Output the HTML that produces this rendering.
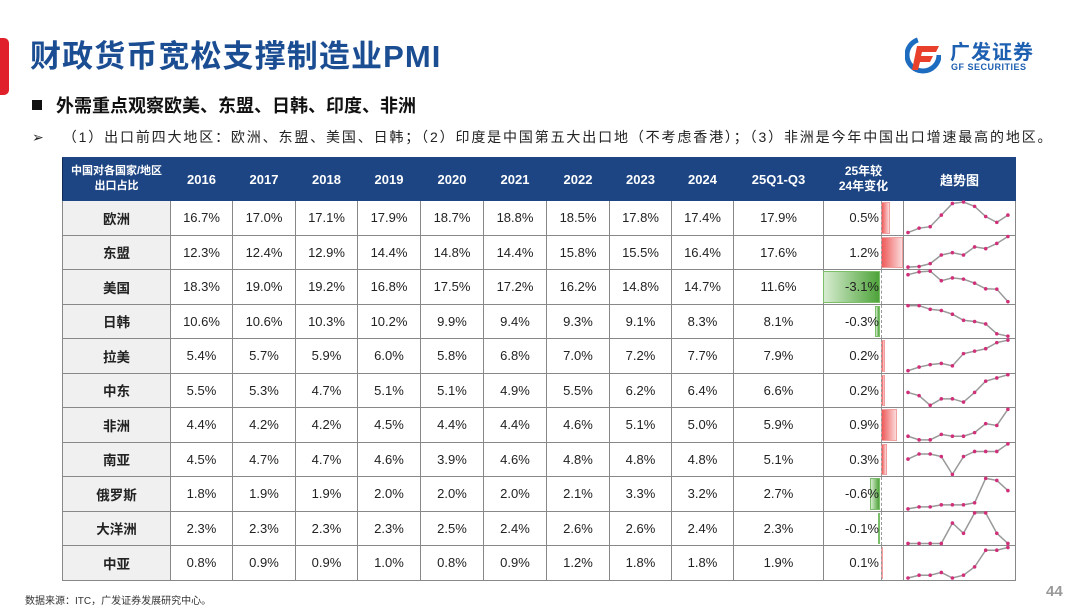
<!DOCTYPE html>
<html><head><meta charset="utf-8">
<style>
*{margin:0;padding:0;box-sizing:border-box}
body{width:1080px;height:608px;background:#fff;position:relative;overflow:hidden;font-family:"Liberation Sans","Noto Sans CJK SC",sans-serif}
.redbar{position:absolute;left:0;top:38px;width:9px;height:57px;background:#e0202a;border-radius:0 5px 5px 0}
.title{position:absolute;left:30px;top:31px;font-size:31px;font-weight:bold;color:#1b4d93;letter-spacing:1.1px}
.sub{position:absolute;left:32px;top:92px;font-size:18px;font-weight:bold;color:#111}
.sub i{display:inline-block;width:10px;height:10px;background:#111;margin-right:14px;vertical-align:2px}
.pt{position:absolute;left:32px;top:127px;font-size:14px;color:#222;white-space:nowrap;letter-spacing:1.85px}
table{position:absolute;left:62px;top:157px;border-collapse:collapse;table-layout:fixed}
td,th{border:1px solid #888;text-align:center;font-size:13px;color:#222;height:34.5px;padding:0}
th{background:#1d4584;color:#fff;font-weight:bold;height:43px;border-color:#1d4584;border-left:1px solid #0e2a55;font-size:13px}
th.s{font-size:11px;line-height:15px}
td.l{background:#f0f0f0;font-weight:bold;font-size:13.5px}
td.c{position:relative;text-align:right;padding-right:24px}
td.c span{position:relative;z-index:2}
.pb{position:absolute;top:1px;bottom:1px;left:57px;background:linear-gradient(to right,#ee5a5a,#fbdada);border:1px solid #f0a0a0}
.nb{position:absolute;top:1px;bottom:1px;right:23px;background:linear-gradient(to right,#d7ecd0,#4ea33a);border:1px solid #7cbf6a}
.ax{position:absolute;top:0;bottom:0;left:57px;border-left:1px dashed #999;z-index:1}
.src{position:absolute;left:25px;top:592px;font-size:10px;color:#333}
.pg{position:absolute;left:1046px;top:583px;font-size:15px;font-weight:bold;color:#999}
svg.tr{position:absolute;left:903px;top:200px}
</style></head><body>
<div class="redbar"></div>
<div class="title">财政货币宽松支撑制造业PMI</div>
<div class="sub"><i></i>外需重点观察欧美、东盟、日韩、印度、非洲</div>
<div class="pt">➢&nbsp;&nbsp;&nbsp;（1）出口前四大地区：欧洲、东盟、美国、日韩；（2）印度是中国第五大出口地（不考虑香港）；（3）非洲是今年中国出口增速最高的地区。</div>
<svg style="position:absolute;left:905px;top:36px" width="36" height="38" viewBox="0 0 36 38">
<circle cx="18" cy="19" r="16" fill="none" stroke="#1d6cc0" stroke-width="5" stroke-dasharray="70 40"/>
<path d="M12 10h22l-3 6H17l-1 4h12l-3 6H15l-2 8H7z" fill="#e8402a"/>
</svg>
<div style="position:absolute;left:950px;top:36px;font-size:20px;font-weight:bold;color:#1d5fb0;letter-spacing:1px">广发证券</div>
<div style="position:absolute;left:951px;top:62px;font-size:9px;font-weight:bold;color:#1d5fb0;letter-spacing:0.5px">GF SECURITIES</div>
<table>
<colgroup><col style="width:108px"><col style="width:62px"><col style="width:63px"><col style="width:62px"><col style="width:63px"><col style="width:63px"><col style="width:63px"><col style="width:63px"><col style="width:62px"><col style="width:62px"><col style="width:90px"><col style="width:80px"><col style="width:112px"></colgroup>
<tr><th class="s">中国对各国家/地区<br>出口占比</th><th>2016</th><th>2017</th><th>2018</th><th>2019</th><th>2020</th><th>2021</th><th>2022</th><th>2023</th><th>2024</th><th>25Q1-Q3</th><th class="s" style="font-size:12px">25年较<br>24年变化</th><th>趋势图</th></tr>
<tr><td class="l">欧洲</td><td>16.7%</td><td>17.0%</td><td>17.1%</td><td>17.9%</td><td>18.7%</td><td>18.8%</td><td>18.5%</td><td>17.8%</td><td>17.4%</td><td>17.9%</td><td class="c"><div class="ax"></div><div class="pb" style="width:9px"></div><span>0.5%</span></td><td></td></tr>
<tr><td class="l">东盟</td><td>12.3%</td><td>12.4%</td><td>12.9%</td><td>14.4%</td><td>14.8%</td><td>14.4%</td><td>15.8%</td><td>15.5%</td><td>16.4%</td><td>17.6%</td><td class="c"><div class="ax"></div><div class="pb" style="width:22px"></div><span>1.2%</span></td><td></td></tr>
<tr><td class="l">美国</td><td>18.3%</td><td>19.0%</td><td>19.2%</td><td>16.8%</td><td>17.5%</td><td>17.2%</td><td>16.2%</td><td>14.8%</td><td>14.7%</td><td>11.6%</td><td class="c"><div class="ax"></div><div class="nb" style="width:57px"></div><span>-3.1%</span></td><td></td></tr>
<tr><td class="l">日韩</td><td>10.6%</td><td>10.6%</td><td>10.3%</td><td>10.2%</td><td>9.9%</td><td>9.4%</td><td>9.3%</td><td>9.1%</td><td>8.3%</td><td>8.1%</td><td class="c"><div class="ax"></div><div class="nb" style="width:5px"></div><span>-0.3%</span></td><td></td></tr>
<tr><td class="l">拉美</td><td>5.4%</td><td>5.7%</td><td>5.9%</td><td>6.0%</td><td>5.8%</td><td>6.8%</td><td>7.0%</td><td>7.2%</td><td>7.7%</td><td>7.9%</td><td class="c"><div class="ax"></div><div class="pb" style="width:4px"></div><span>0.2%</span></td><td></td></tr>
<tr><td class="l">中东</td><td>5.5%</td><td>5.3%</td><td>4.7%</td><td>5.1%</td><td>5.1%</td><td>4.9%</td><td>5.5%</td><td>6.2%</td><td>6.4%</td><td>6.6%</td><td class="c"><div class="ax"></div><div class="pb" style="width:4px"></div><span>0.2%</span></td><td></td></tr>
<tr><td class="l">非洲</td><td>4.4%</td><td>4.2%</td><td>4.2%</td><td>4.5%</td><td>4.4%</td><td>4.4%</td><td>4.6%</td><td>5.1%</td><td>5.0%</td><td>5.9%</td><td class="c"><div class="ax"></div><div class="pb" style="width:16px"></div><span>0.9%</span></td><td></td></tr>
<tr><td class="l">南亚</td><td>4.5%</td><td>4.7%</td><td>4.7%</td><td>4.6%</td><td>3.9%</td><td>4.6%</td><td>4.8%</td><td>4.8%</td><td>4.8%</td><td>5.1%</td><td class="c"><div class="ax"></div><div class="pb" style="width:6px"></div><span>0.3%</span></td><td></td></tr>
<tr><td class="l">俄罗斯</td><td>1.8%</td><td>1.9%</td><td>1.9%</td><td>2.0%</td><td>2.0%</td><td>2.0%</td><td>2.1%</td><td>3.3%</td><td>3.2%</td><td>2.7%</td><td class="c"><div class="ax"></div><div class="nb" style="width:10px"></div><span>-0.6%</span></td><td></td></tr>
<tr><td class="l">大洋洲</td><td>2.3%</td><td>2.3%</td><td>2.3%</td><td>2.3%</td><td>2.5%</td><td>2.4%</td><td>2.6%</td><td>2.6%</td><td>2.4%</td><td>2.3%</td><td class="c"><div class="ax"></div><div class="nb" style="width:2px"></div><span>-0.1%</span></td><td></td></tr>
<tr><td class="l">中亚</td><td>0.8%</td><td>0.9%</td><td>0.9%</td><td>1.0%</td><td>0.8%</td><td>0.9%</td><td>1.2%</td><td>1.8%</td><td>1.8%</td><td>1.9%</td><td class="c"><div class="ax"></div><div class="pb" style="width:2px"></div><span>0.1%</span></td><td></td></tr>
</table>
<svg class="tr" id="tr" width="112" height="380"></svg>
<div class="src">数据来源：ITC，广发证券发展研究中心。</div>
<div class="pg">44</div>
<script>
var D=[[16.7,17.0,17.1,17.9,18.7,18.8,18.5,17.8,17.4,17.9],[12.3,12.4,12.9,14.4,14.8,14.4,15.8,15.5,16.4,17.6],[18.3,19.0,19.2,16.8,17.5,17.2,16.2,14.8,14.7,11.6],[10.6,10.6,10.3,10.2,9.9,9.4,9.3,9.1,8.3,8.1],[5.4,5.7,5.9,6.0,5.8,6.8,7.0,7.2,7.7,7.9],[5.5,5.3,4.7,5.1,5.1,4.9,5.5,6.2,6.4,6.6],[4.4,4.2,4.2,4.5,4.4,4.4,4.6,5.1,5.0,5.9],[4.5,4.7,4.7,4.6,3.9,4.6,4.8,4.8,4.8,5.1],[1.8,1.9,1.9,2.0,2.0,2.0,2.1,3.3,3.2,2.7],[2.3,2.3,2.3,2.3,2.5,2.4,2.6,2.6,2.4,2.3],[0.8,0.9,0.9,1.0,0.8,0.9,1.2,1.8,1.8,1.9]];
var s='',h=380/11;
D.forEach(function(r,i){var mn=Math.min.apply(0,r),mx=Math.max.apply(0,r);var t=i*h+2,b=(i+1)*h-2;var p=r.map(function(v,j){return [5+j*11.1,b-(v-mn)/(mx-mn)*(b-t)]});
s+='<polyline fill="none" stroke="#999" stroke-width="1.5" points="'+p.map(function(q){return q.join(',')}).join(' ')+'"/>';
p.forEach(function(q){s+='<circle cx="'+q[0]+'" cy="'+q[1]+'" r="1.8" fill="#d0307a"/>'});});
document.getElementById('tr').innerHTML=s;
</script>
</body></html>
